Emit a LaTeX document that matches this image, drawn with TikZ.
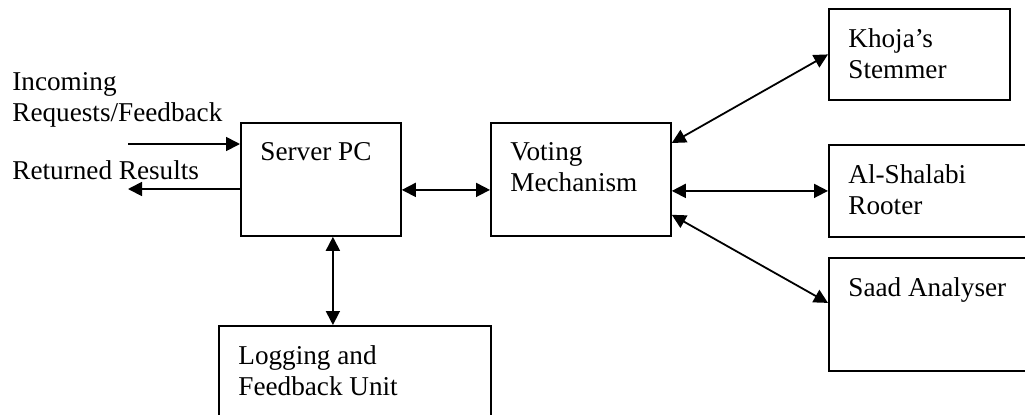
\documentclass[tikz,border=0pt]{standalone}
\usepackage{fontspec}
\setmainfont{Liberation Serif}
\usetikzlibrary{positioning,calc,arrows.meta}

\tikzset{
  box/.style={draw, line width=0.9pt, anchor=north west, inner sep=0pt},
  txt/.style={anchor=north west, inner sep=0pt, align=left,
    font=\fontsize{13.6}{15.5}\selectfont},
  link/.style={line width=0.9pt},
  >={Triangle[length=7pt,width=7pt]}
}

\begin{document}
\begin{tikzpicture}[x=0.5pt, y=-0.5pt]
  \useasboundingbox (0,0) rectangle (1025,414);

  % Boxes
  \node[box, minimum width=80pt, minimum height=56.5pt] (server) at (240,122) {};
  \node[box, minimum width=90pt, minimum height=56.5pt] (voting) at (490,122) {};
  \node[box, minimum width=90.5pt, minimum height=45.5pt] (khoja) at (828,8) {};
  \node[box, minimum width=110pt, minimum height=46pt] (shalabi) at (828,144) {};
  \node[box, minimum width=110pt, minimum height=56.5pt] (saad) at (828,257) {};
  \node[box, minimum width=136pt, minimum height=60pt] (logging) at (218,325) {};

  % Box texts
  \node[txt] (servertxt) at ([xshift=10pt,yshift=-10pt]server.north west) {Server PC};
  \node[txt] (votingtxt) at ([xshift=10pt,yshift=-10pt]voting.north west) {Voting\\Mechanism};
  \node[txt] (khojatxt) at ([xshift=10pt,yshift=-10pt]khoja.north west) {Khoja’s\\Stemmer};
  \node[txt] (shalabitxt) at ([xshift=10pt,yshift=-10pt]shalabi.north west) {Al-Shalabi\\Rooter};
  \node[txt] (saadtxt) at ([xshift=10pt,yshift=-10pt]saad.north west) {Saad Analyser};
  \node[txt] (loggingtxt) at ([xshift=10pt,yshift=-10pt]logging.north west) {Logging and\\Feedback Unit};

  % Outside texts
  \node[txt] (incoming) at (12,72) {Incoming\\Requests/Feedback};
  \node[txt] (returned) at (12,160) {Returned Results};
  \coordinate (inc) at (128,144);
  \coordinate (ret) at (128,189);

  % Connectors
  \draw[link, ->] (inc) -- (inc -| server.west);
  \draw[link, ->] (ret -| server.west) -- (ret);
  \draw[link, <->] ([yshift=-5.25pt]server.east) -- ([yshift=-5.25pt]voting.west);
  \draw[link, <->] ([xshift=6pt]server.south) -- ([xshift=6pt]server.south |- logging.north);
  \draw[link, <->] ([yshift=-10.5pt]voting.north east) -- (khoja.west);
  \draw[link, <->] (voting.east |- shalabi.west) -- (shalabi.west);
  \draw[link, <->] ([yshift=11pt]voting.south east) -- ([yshift=5.75pt]saad.west);
\end{tikzpicture}
\end{document}
